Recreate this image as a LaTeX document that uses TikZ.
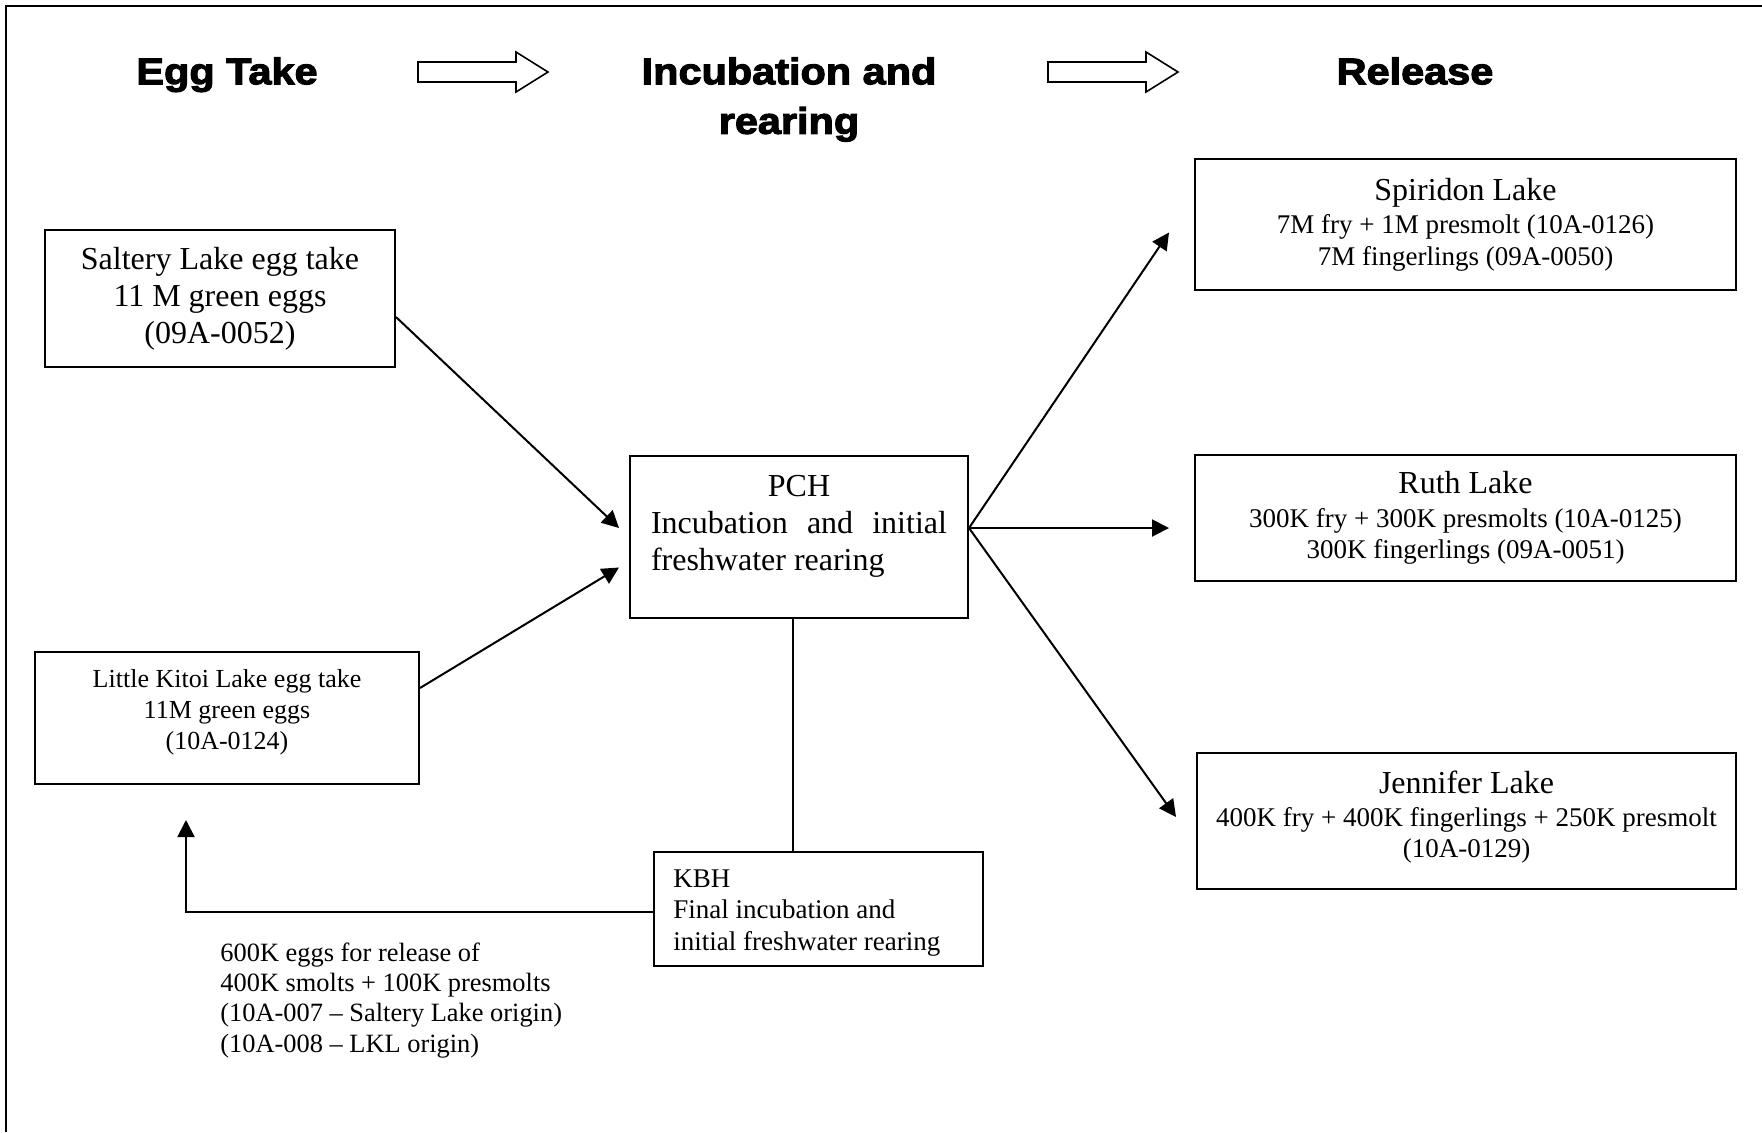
\documentclass[tikz,border=0pt]{standalone}
\usepackage{fontspec}
\setmainfont{Liberation Serif}
\newfontfamily\titlefont{Liberation Sans}[FakeStretch=1.12,BoldFeatures={FakeBold=3}]
\usetikzlibrary{arrows.meta,calc}
\begin{document}
\begin{tikzpicture}[x=0.5pt,y=-0.5pt,
  box/.style={draw,line width=1pt,inner sep=0pt,align=center},
  bigtxt/.style={font=\fontsize{16}{18.5}\selectfont},
  smalltxt/.style={font=\fontsize{13.5}{15.7}\selectfont},
  ttl/.style={font=\titlefont\bfseries\fontsize{18.5}{24.8}\selectfont,align=center,inner sep=0pt,anchor=north},
  arr/.style={line width=1pt,-{Triangle[length=8.5pt,width=8.5pt]}},
  hollow/.style={line width=0.8pt,fill=white,line join=miter},
  ]
\useasboundingbox (0,0) rectangle (1762,1132);
% outer frame (left and top only)
\draw[line width=1.2pt] (6,1132) -- (6,6) -- (1762,6);

% titles
\node[ttl] (tegg) at (227,57) {Egg Take};
\node[ttl] (tinc) at (789,57) {Incubation and\\rearing};
\node[ttl] (trel) at (1415,57) {Release};

% hollow arrows
\draw[hollow] (418,62) -- (516,62) -- (516,52) -- (548,72) -- (516,92) -- (516,82) -- (418,82) -- cycle;
\draw[hollow] (1048,62) -- (1146,62) -- (1146,52) -- (1178,72) -- (1146,92) -- (1146,82) -- (1048,82) -- cycle;

% boxes
\node[box,bigtxt,minimum width=175pt,minimum height=68.5pt] (salt) at (220,298.5)
  {Saltery Lake egg take\\11 M green eggs\\(09A-0052)};
\node[box,minimum width=192pt,minimum height=66pt] (lk) at (227,718) {};
\node[font=\fontsize{13}{15.5}\selectfont,align=center,inner sep=0pt] (lkt) at (227,712)
  {Little Kitoi Lake egg take\\11M green eggs\\(10A-0124)};
\node[box,minimum width=169pt,minimum height=81pt] (pch) at (799,536.5) {};
\node[bigtxt,inner sep=0pt,text width=148pt,align=justify] (pcht) at (799,526.5)
  {\tolerance=10000\hyphenpenalty=10000{\centering PCH\par}Incubation and initial freshwater rearing};

\node[box,smalltxt,minimum width=270.5pt,minimum height=65.5pt] (spir) at (1465.5,224.5)
  {{\fontsize{16}{18.5}\selectfont Spiridon Lake}\\[1pt]7M fry + 1M presmolt (10A-0126)\\7M fingerlings (09A-0050)};
\node[box,smalltxt,minimum width=270.5pt,minimum height=63pt] (ruth) at (1465.5,518)
  {{\fontsize{16}{18.5}\selectfont Ruth Lake}\\[1pt]300K fry + 300K presmolts (10A-0125)\\300K fingerlings (09A-0051)};
\node[box,minimum width=269.5pt,minimum height=68pt] (jen) at (1466.5,821) {};
\node[smalltxt,align=center,inner sep=0pt] (jent) at (1466.5,817)
  {{\fontsize{16}{18.5}\selectfont Jennifer Lake}\\[1pt]400K fry + 400K fingerlings + 250K presmolt\\(10A-0129)};

\node[box,minimum width=164.5pt,minimum height=57pt] (kbh) at (818.5,909) {};
\node[smalltxt,align=left,inner sep=0pt,anchor=west] (kbht) at ($(kbh.west)+(20,4)$)
  {KBH\\Final incubation and\\initial freshwater rearing};

\node[font=\fontsize{13.2}{15.2}\selectfont,align=left,inner sep=0pt,anchor=north west] (note) at (220,942)
  {600K eggs for release of\\400K smolts + 100K presmolts\\(10A-007 -- Saltery Lake origin)\\(10A-008 -- LKL origin)};

% connectors
\coordinate (s1) at ($(salt.east)+(0,18.5)$);
\coordinate (e1) at ($(pch.west)+(-10,-8.5)$);
\coordinate (s2) at ($(lk.east)+(0,-30)$);
\coordinate (e2) at ($(pch.west)+(-10,31)$);
\draw[arr] (s1) -- (e1);
\draw[arr] (s2) -- (e2);

\coordinate (po) at ($(pch.east)+(0,-8.5)$);
\coordinate (espir) at ($(spir.west)+(-25,8)$);
\coordinate (eruth) at ($(ruth.west)+(-25,10)$);
\coordinate (ejen) at ($(jen.west)+(-20,-4)$);
\draw[arr] (po) -- (espir);
\draw[arr] (po) -- (eruth);
\draw[arr] (po) -- (ejen);

\coordinate (pb) at ($(pch.south)+(-6,0)$);
\draw[line width=1pt] (pb) -- (pb |- kbh.north);

\coordinate (kw) at ($(kbh.west)+(0,3)$);
\coordinate (fb) at ($(lk.south)+(-41,35)$);
\draw[arr] (kw) -| (fb);
\end{tikzpicture}
\end{document}
